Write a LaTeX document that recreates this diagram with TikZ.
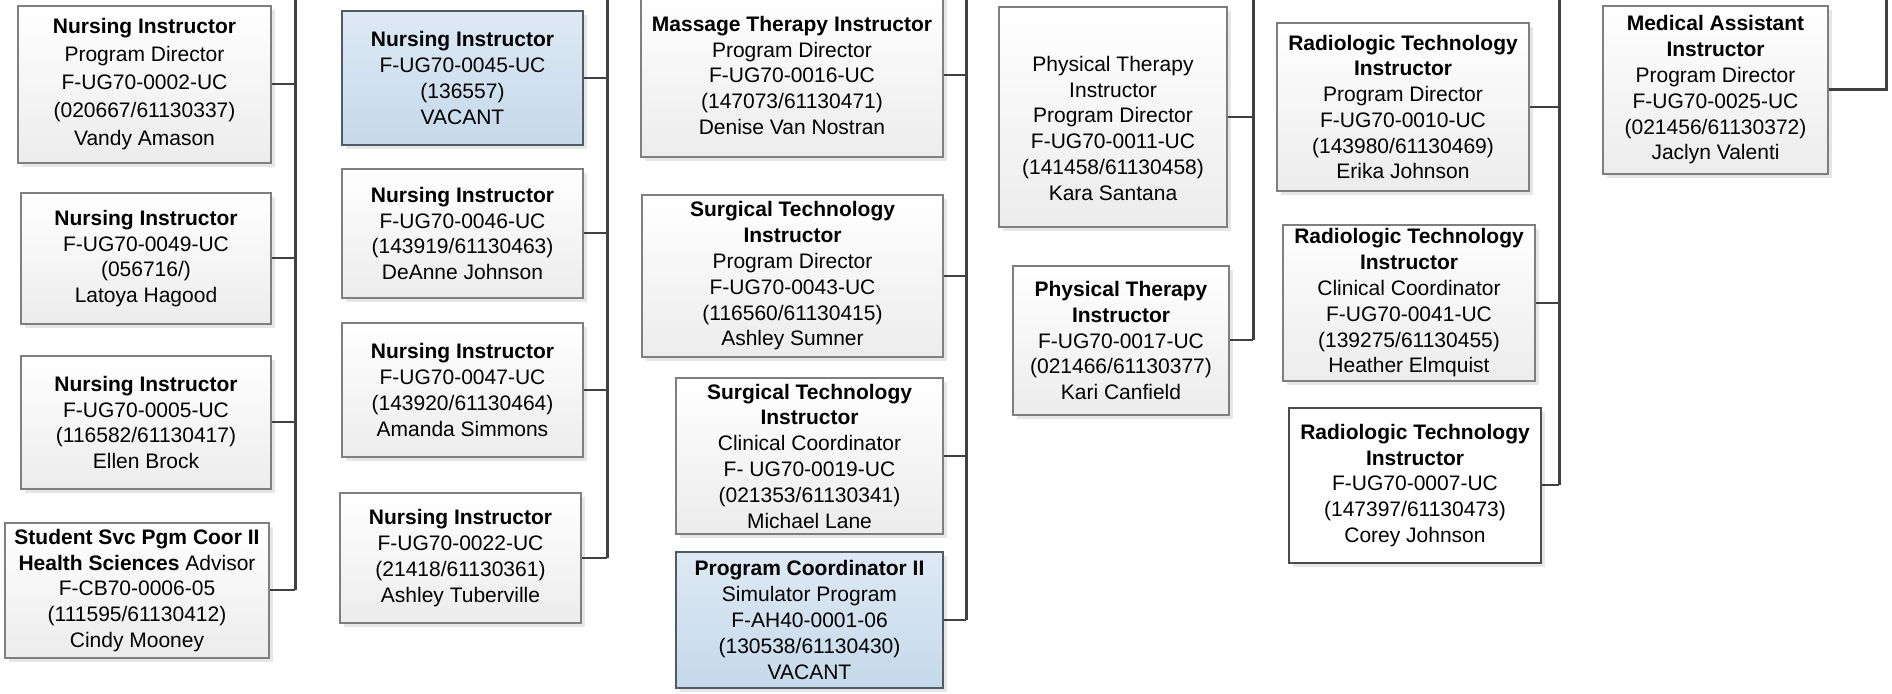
\documentclass[tikz,border=0pt]{standalone}
\usepackage{fontspec}
\setmainfont{Liberation Sans}
\usetikzlibrary{shadows}
\definecolor{busc}{HTML}{404040}
\definecolor{bordc}{HTML}{7F7F7F}
\definecolor{gbot}{HTML}{ECECEC}
\definecolor{btop}{HTML}{DEE9F4}
\definecolor{bbot}{HTML}{C5D9EA}
\definecolor{bbord}{HTML}{4F5B66}
\definecolor{shad}{HTML}{E6E6E6}
\tikzset{
  box/.style={draw=bordc, line width=0.75pt, rectangle, align=center, inner sep=0pt,
    top color=white, bottom color=gbot,
    drop shadow={shadow xshift=2pt, shadow yshift=-2pt, fill=shad, opacity=1},
    font=\fontsize{10.5}{12.9}\selectfont},
  bluebox/.style={box, draw=bbord, top color=btop, bottom color=bbot},
  whitebox/.style={box, draw=black!70, top color=white, bottom color=white},
  bus/.style={draw=busc, line width=1.5pt},
  conn/.style={draw=busc, line width=1pt},
  sz/.style 2 args={minimum width=#1*0.5pt, minimum height=#2*0.5pt},
}
\begin{document}
\begin{tikzpicture}[x=0.5pt,y=-0.5pt]
\useasboundingbox (0,0) rectangle (1892,694);
% column 1
\node[box, sz={253}{157}, font=\fontsize{10.5}{14}\selectfont] (A1) at (144.5,84.5) {\textbf{Nursing Instructor}\\Program Director\\F-UG70-0002-UC\\(020667/61130337)\\Vandy Amason};
\node[box, sz={250}{131}] (A2) at (146,258.5) {\textbf{Nursing Instructor}\\F-UG70-0049-UC\\(056716/)\\Latoya Hagood};
\node[box, sz={250}{133}] (A3) at (146,422.5) {\textbf{Nursing Instructor}\\F-UG70-0005-UC\\(116582/61130417)\\Ellen Brock};
\node[box, sz={264}{135}] (A4) at (137,590.5) {\textbf{Student Svc Pgm Coor II}\\\textbf{Health Sciences} Advisor\\F-CB70-0006-05\\(111595/61130412)\\Cindy Mooney};
% column 2
\node[bluebox, sz={241}{134}] (B1) at (462.5,78) {\textbf{Nursing Instructor}\\F-UG70-0045-UC\\(136557)\\VACANT};
\node[box, sz={241}{129}] (B2) at (462.5,233.5) {\textbf{Nursing Instructor}\\F-UG70-0046-UC\\(143919/61130463)\\DeAnne Johnson};
\node[box, sz={241}{134}] (B3) at (462.5,390) {\textbf{Nursing Instructor}\\F-UG70-0047-UC\\(143920/61130464)\\Amanda Simmons};
\node[box, sz={241}{130}] (B4) at (460.5,558) {\textbf{Nursing Instructor}\\F-UG70-0022-UC\\(21418/61130361)\\Ashley Tuberville};
% column 3
\node[box, sz={302}{163}] (C1) at (792,75.5) {\textbf{Massage Therapy Instructor}\\Program Director\\F-UG70-0016-UC\\(147073/61130471)\\Denise Van Nostran};
\node[box, sz={301}{162}] (C2) at (792.5,276) {\textbf{Surgical Technology}\\\textbf{Instructor}\\Program Director\\F-UG70-0043-UC\\(116560/61130415)\\Ashley Sumner};
\node[box, sz={267}{156}] (C3) at (809.5,456) {\textbf{Surgical Technology}\\\textbf{Instructor}\\Clinical Coordinator\\F- UG70-0019-UC\\(021353/61130341)\\Michael Lane};
\node[bluebox, sz={267}{136}] (C4) at (809.5,620) {\textbf{Program Coordinator II}\\Simulator Program\\F-AH40-0001-06\\(130538/61130430)\\VACANT};
% column 4
\node[box, sz={228}{220}] (D1) at (1113,117) {\rule{0pt}{19pt}Physical Therapy\\Instructor\\Program Director\\F-UG70-0011-UC\\(141458/61130458)\\Kara Santana};
\node[box, sz={216}{149}] (D2) at (1121,340.5) {\textbf{Physical Therapy}\\\textbf{Instructor}\\F-UG70-0017-UC\\(021466/61130377)\\Kari Canfield};
% column 5
\node[box, sz={252}{168}] (E1) at (1403,107) {\textbf{Radiologic Technology}\\\textbf{Instructor}\\Program Director\\F-UG70-0010-UC\\(143980/61130469)\\Erika Johnson};
\node[box, sz={252}{156}] (E2) at (1409,303) {\textbf{Radiologic Technology}\\\textbf{Instructor}\\Clinical Coordinator\\F-UG70-0041-UC\\(139275/61130455)\\Heather Elmquist};
\node[whitebox, sz={252}{155}] (E3) at (1415,485.5) {\textbf{Radiologic Technology}\\\textbf{Instructor}\\F-UG70-0007-UC\\(147397/61130473)\\Corey Johnson};
% column 6
\node[box, sz={225}{168}] (F1) at (1715.5,90) {\textbf{Medical Assistant}\\\textbf{Instructor}\\Program Director\\F-UG70-0025-UC\\(021456/61130372)\\Jaclyn Valenti};
% bus tops
\coordinate (t1) at (295,-4);
\coordinate (t2) at (607,-4);
\coordinate (t3) at (966,-4);
\coordinate (t4) at (1253,-4);
\coordinate (t5) at (1559,-4);
\coordinate (t6) at (1886,-4);
% buses
\draw[bus] (t1) -- (t1 |- A4.east);
\draw[bus] (t2) -- (t2 |- B4.east);
\draw[bus] (t3) -- (t3 |- C4.east);
\draw[bus] (t4) -- (t4 |- D2.east);
\draw[bus] (t5) -- (t5 |- E3.east);
\draw[bus] (F1.east) -- (F1.east -| t6) -- (t6);
% connectors
\foreach \n in {A1,A2,A3,A4}{\draw[conn] (\n.east) -- (\n.east -| t1);}
\foreach \n in {B1,B2,B3,B4}{\draw[conn] (\n.east) -- (\n.east -| t2);}
\foreach \n in {C1,C2,C3,C4}{\draw[conn] (\n.east) -- (\n.east -| t3);}
\foreach \n in {D1,D2}{\draw[conn] (\n.east) -- (\n.east -| t4);}
\foreach \n in {E1,E2,E3}{\draw[conn] (\n.east) -- (\n.east -| t5);}
\end{tikzpicture}
\end{document}
